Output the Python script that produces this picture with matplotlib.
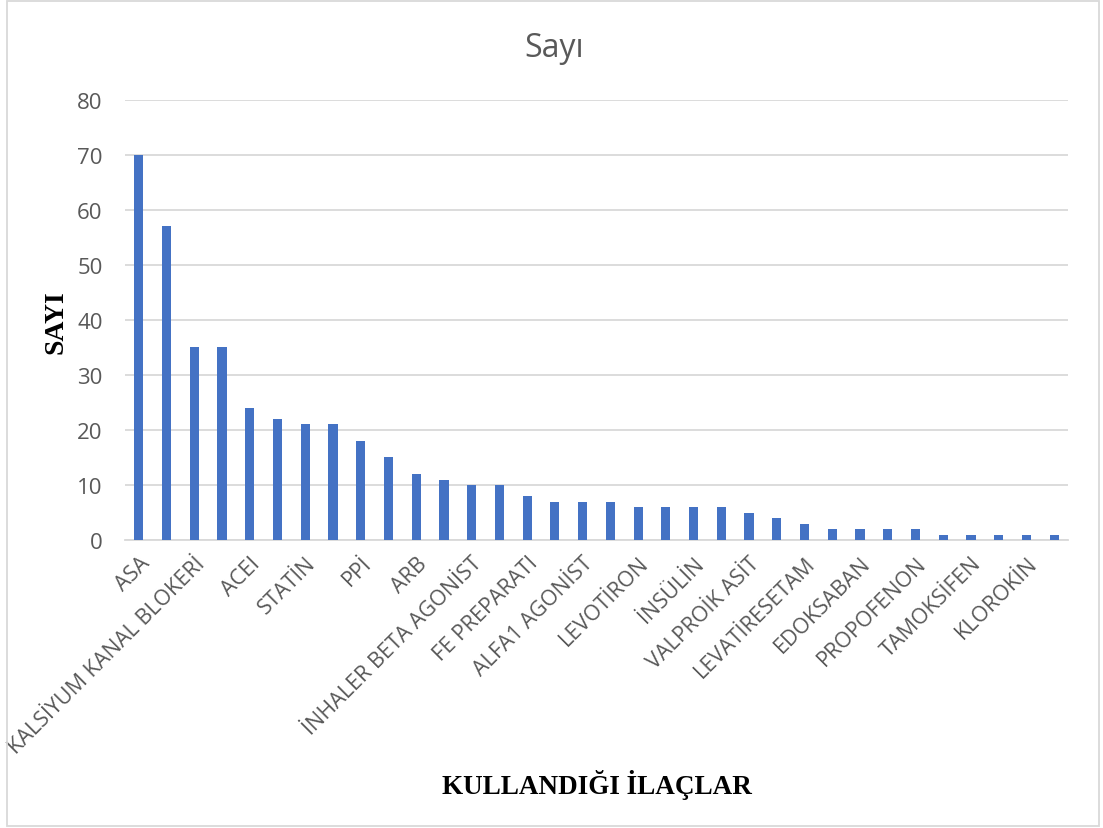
import matplotlib.pyplot as plt
import numpy as np
from matplotlib.patches import Rectangle

# Data (34 bars, every second one labelled)
values = [70, 57, 35, 35, 24, 22, 21, 21, 18, 15, 12, 11, 10, 10, 8, 7, 7,
          7, 6, 6, 6, 6, 5, 4, 3, 2, 2, 2, 2, 1, 1, 1, 1, 1]
shown_labels = ['ASA', 'KALSİYUM KANAL BLOKERİ', 'ACEI', 'STATİN', 'PPİ', 'ARB',
                'İNHALER BETA AGONİST', 'FE PREPARATI', 'ALFA1 AGONİST',
                'LEVOTİRON', 'İNSÜLİN', 'VALPROİK ASİT', 'LEVATİRESETAM',
                'EDOKSABAN', 'PROPOFENON', 'TAMOKSİFEN', 'KLOROKİN']
y_ticks = [0, 10, 20, 30, 40, 50, 60, 70, 80]

title = 'Sayı'
x_title = 'KULLANDIĞI İLAÇLAR'
y_title = 'SAYI'

text_col = '#595959'
bar_col = '#4472C4'
grid_col = '#d9d9d9'

fig = plt.figure(figsize=(11.03, 8.29), dpi=100)
ax = fig.add_axes([0.1133, 0.3474, 0.855, 0.5308])

x = np.arange(len(values))
ax.bar(x, values, width=0.33, color=bar_col, zorder=3)

ax.set_xlim(-0.5, len(values) - 0.5)
ax.set_ylim(0, 80)
ax.set_yticks(y_ticks)
ax.yaxis.grid(True, color=grid_col, linewidth=1.3, zorder=0)
for s in ['top', 'right', 'left']:
    ax.spines[s].set_visible(False)
ax.spines['bottom'].set_color(grid_col)
ax.spines['bottom'].set_linewidth(1.3)
ax.tick_params(axis='y', length=0, pad=16, labelsize=16, labelcolor=text_col)
for t in ax.get_yticklabels():
    t.set_fontfamily('Open Sans')

ax.set_xticks(x[::2])
ax.set_xticklabels(shown_labels, rotation=45, ha='right', rotation_mode='anchor',
                   fontfamily='Open Sans', fontsize=15.5, color=text_col)
ax.tick_params(axis='x', length=0, pad=9)

fig.text(0.502, 0.942, title, ha='center', va='center', fontsize=23,
         fontfamily='Open Sans', color=text_col)
fig.text(0.541, 0.053, x_title, ha='center', va='center', fontsize=19.5,
         fontfamily='Liberation Serif', fontweight='bold', color='black')
fig.text(0.051, 0.611, y_title, ha='center', va='center', rotation=90,
         fontsize=20, fontfamily='Liberation Serif', fontweight='bold', color='black')

fig.patches.append(Rectangle((0.006, 0.003), 0.99, 0.994, transform=fig.transFigure,
                             fill=False, edgecolor='#d9d9d9', linewidth=1.3))

fig.savefig('out.png', dpi=100)
